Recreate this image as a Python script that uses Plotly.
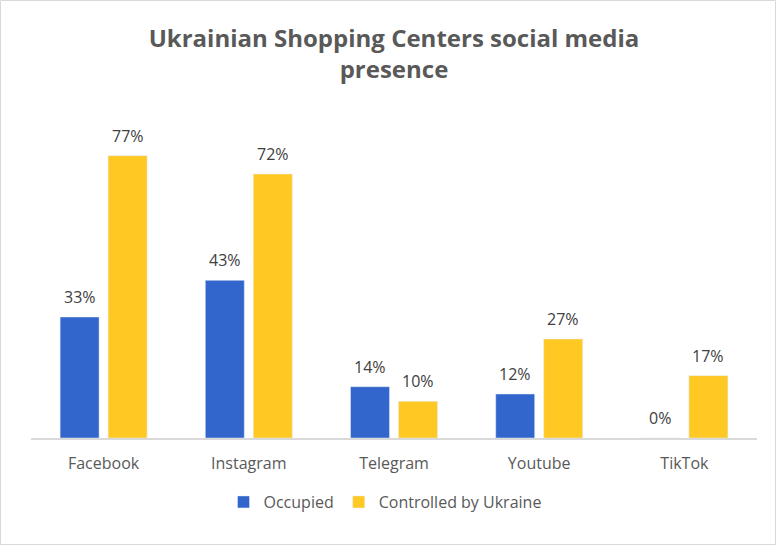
import plotly.graph_objects as go

# Data
PLATFORMS = ["Facebook", "Instagram", "Telegram", "Youtube", "TikTok"]
OCCUPIED = [33, 43, 14, 12, 0]
CONTROLLED = [77, 72, 10, 27, 17]

BLUE = "#3366CC"
YELLOW = "#FFC822"
FONT = "Open Sans"

# Plot area in pixels (matches the Excel layout)
ML, MR, MT, MB = 31, 19, 108, 107
PW, PH = 776 - ML - MR, 545 - MT - MB

fig = go.Figure()

fig.add_trace(
    go.Bar(
        x=PLATFORMS,
        y=OCCUPIED,
        name="Occupied",
        marker=dict(color=BLUE),
    )
)
fig.add_trace(
    go.Bar(
        x=PLATFORMS,
        y=CONTROLLED,
        name="Controlled by Ukraine",
        marker=dict(color=YELLOW),
    )
)

# Value labels, placed above each bar like Excel does
for values, shift in ((OCCUPIED, -0.165), (CONTROLLED, 0.165)):
    for i, v in enumerate(values):
        fig.add_annotation(
            x=i + shift,
            y=v,
            xref="x",
            yref="y",
            text=f"{v}%",
            showarrow=False,
            yanchor="middle",
            yshift=20,
            font=dict(size=16, color="#404040", family=FONT),
        )

# Light grey frame around the whole chart
fig.add_shape(
    type="rect",
    xref="paper", yref="paper",
    x0=-(ML - 0.5) / PW, x1=1 + (MR - 0.5) / PW,
    y0=-(MB - 0.5) / PH, y1=1 + (MT - 0.5) / PH,
    line=dict(color="#d9d9d9", width=1),
    fillcolor="rgba(0,0,0,0)",
)

fig.update_layout(
    title=dict(
        text="<b>Ukrainian Shopping Centers social media<br>presence</b>",
        x=0.5,
        xanchor="center",
        xref="paper",
        y=1 - 47 / 545,
        yanchor="middle",
        yref="container",
        font=dict(size=24, color="#595959", family=FONT),
    ),
    barmode="group",
    bargap=0.339,
    bargroupgap=0.1875,
    width=776,
    height=545,
    margin=dict(l=ML, r=MR, t=MT, b=MB),
    plot_bgcolor="white",
    paper_bgcolor="white",
    font=dict(family=FONT, color="#595959", size=16),
    showlegend=True,
    legend=dict(
        orientation="h",
        x=0.5 - 9 / PW,
        xanchor="center",
        y=-64 / PH,
        yanchor="middle",
        font=dict(size=16, color="#595959", family=FONT),
        itemwidth=30,
        traceorder="normal",
    ),
    xaxis=dict(
        showline=True,
        linecolor="#d9d9d9",
        linewidth=2,
        ticks="",
        ticklabelstandoff=10,
        tickfont=dict(size=16, color="#595959", family=FONT),
        showgrid=False,
    ),
    yaxis=dict(
        range=[0, 90],
        visible=False,
        showgrid=False,
        zeroline=False,
    ),
)

fig.write_html(
    "out.html",
    config={"displayModeBar": False},
    post_script="document.body.style.margin='0';document.body.style.overflow='hidden';",
)
